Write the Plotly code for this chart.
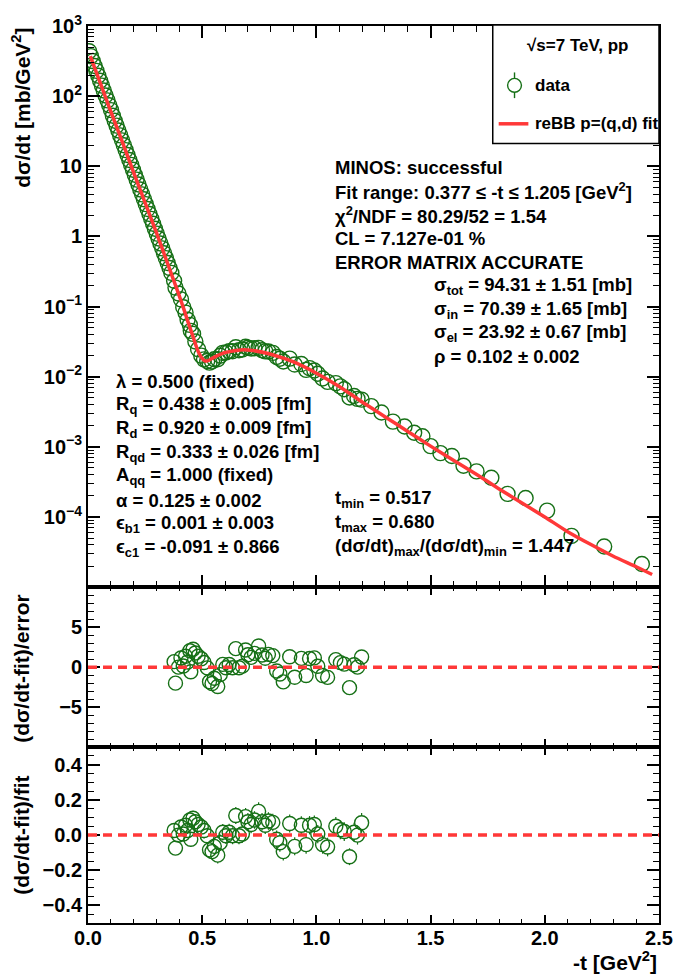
import plotly.graph_objects as go

# ---------------- data ----------------
# low |t| region (dense points)
t_low = [0.005, 0.013, 0.021, 0.029, 0.037, 0.045, 0.053, 0.061, 0.069, 0.077,
         0.085, 0.093, 0.101, 0.109, 0.117, 0.125, 0.133, 0.141, 0.149, 0.157,
         0.165, 0.173, 0.181, 0.189, 0.197, 0.205, 0.213, 0.221, 0.229, 0.237,
         0.245, 0.253, 0.261, 0.269, 0.277, 0.285, 0.293, 0.301, 0.309, 0.317,
         0.325, 0.333, 0.341, 0.349, 0.357, 0.365]
log_low = [2.64, 2.57, 2.50, 2.43, 2.36, 2.29, 2.22, 2.15, 2.08, 2.01,
           1.94, 1.87, 1.80, 1.72, 1.65, 1.58, 1.51, 1.44, 1.37, 1.30,
           1.23, 1.16, 1.09, 1.02, 0.95, 0.88, 0.81, 0.74, 0.67, 0.60,
           0.53, 0.46, 0.39, 0.32, 0.25, 0.18, 0.11, 0.04, -0.03, -0.10,
           -0.17, -0.24, -0.31, -0.38, -0.45, -0.52]

# fit range points (0.377 <= -t <= 1.205)
t_fitrange = [0.377, 0.383, 0.396, 0.407, 0.417, 0.427, 0.436, 0.446, 0.450, 0.460,
              0.470, 0.482, 0.496, 0.508, 0.522, 0.532, 0.543, 0.553, 0.568, 0.579,
              0.590, 0.604, 0.618, 0.633, 0.647, 0.661, 0.676, 0.690, 0.700, 0.714,
              0.729, 0.747, 0.762, 0.776, 0.790, 0.809, 0.826, 0.840, 0.855, 0.883,
              0.905, 0.934, 0.955, 0.970, 0.991, 1.006, 1.027, 1.049, 1.085, 1.105,
              1.122, 1.145, 1.165, 1.180, 1.198]
log_fitrange = [-0.632, -0.730, -0.814, -0.897, -1.009, -1.086, -1.189, -1.261, -1.346, -1.390,
                -1.498, -1.609, -1.700, -1.753, -1.776, -1.799, -1.783, -1.751, -1.751, -1.702,
                -1.661, -1.655, -1.637, -1.637, -1.581, -1.623, -1.613, -1.574, -1.588, -1.598,
                -1.595, -1.589, -1.622, -1.639, -1.640, -1.660, -1.720, -1.744, -1.784, -1.743,
                -1.827, -1.820, -1.902, -1.878, -1.911, -1.958, -2.025, -2.074, -2.091, -2.138,
                -2.179, -2.296, -2.276, -2.316, -2.327]
ratio = [0.026, -0.074, 0.000, 0.046, 0.006, 0.056, 0.026, 0.086, -0.024, 0.096,
         0.076, 0.060, 0.046, 0.026, -0.004, -0.084, -0.094, -0.064, -0.114, -0.044,
         0.016, -0.004, 0.016, -0.004, 0.111, -0.004, 0.006, 0.105, 0.076, 0.060,
         0.086, 0.135, 0.076, 0.056, 0.080, 0.072, -0.024, -0.044, -0.094, 0.066,
         -0.064, 0.056, -0.054, 0.056, 0.060, 0.006, -0.054, -0.068, 0.050, 0.030,
         0.020, -0.123, 0.016, 0.000, 0.070]
rel_err = [0.038, 0.037, 0.039, 0.040, 0.040, 0.041, 0.041, 0.042, 0.042, 0.043,
           0.043, 0.044, 0.044, 0.045, 0.045, 0.046, 0.046, 0.046, 0.047, 0.047,
           0.047, 0.047, 0.048, 0.048, 0.048, 0.048, 0.049, 0.049, 0.049, 0.049,
           0.050, 0.051, 0.050, 0.050, 0.050, 0.050, 0.050, 0.051, 0.051, 0.051,
           0.051, 0.051, 0.052, 0.052, 0.052, 0.052, 0.052, 0.053, 0.053, 0.053,
           0.053, 0.048, 0.054, 0.054, 0.055]

# high |t| tail
t_tail = [1.240, 1.285, 1.335, 1.386, 1.428, 1.464, 1.500, 1.543, 1.593, 1.644,
          1.701, 1.766, 1.837, 1.916, 2.010, 2.117, 2.260, 2.425]
log_tail = [-2.42, -2.51, -2.64, -2.71, -2.80, -2.85, -2.99, -3.09, -3.13, -3.27,
            -3.35, -3.44, -3.67, -3.73, -3.91, -4.27, -4.42, -4.67]

# fit curve (reBB p=(q,d))
fit_t = [0.01, 0.05, 0.10, 0.15, 0.20, 0.25, 0.30, 0.35, 0.38, 0.40, 0.42, 0.44, 0.46,
         0.47, 0.48, 0.49, 0.50, 0.51, 0.52, 0.53, 0.54, 0.56, 0.58, 0.60, 0.65, 0.68,
         0.72, 0.80, 0.90, 1.00, 1.10, 1.20, 1.30, 1.40, 1.50, 1.60, 1.70, 1.80, 1.90,
         2.00, 2.10, 2.20, 2.30, 2.40, 2.47]
fit_log = [2.57, 2.22, 1.78, 1.35, 0.91, 0.48, 0.05, -0.40, -0.67, -0.85, -1.04, -1.24, -1.43,
           -1.53, -1.62, -1.69, -1.74, -1.77, -1.775, -1.765, -1.745, -1.71, -1.68, -1.655, -1.625, -1.615,
           -1.625, -1.68, -1.79, -1.95, -2.14, -2.36, -2.57, -2.78, -2.99, -3.19, -3.39, -3.60, -3.80,
           -4.00, -4.21, -4.39, -4.56, -4.71, -4.82]

y_tickvals = [1e-4, 1e-3, 1e-2, 1e-1, 1, 10, 100, 1000]
y_ticktext = ["10<sup>−4</sup>", "10<sup>−3</sup>", "10<sup>−2</sup>", "10<sup>−1</sup>",
              "1", "10", "10<sup>2</sup>", "10<sup>3</sup>"]
x_tickvals = [0.0, 0.5, 1.0, 1.5, 2.0, 2.5]
x_ticktext = ["0.0", "0.5", "1.0", "1.5", "2.0", "2.5"]

# ---------------- derived ----------------
t_all = t_low + t_fitrange + t_tail
ds_all = [10 ** v for v in (log_low + log_fitrange + log_tail)]
fit_vals = [10 ** v for v in fit_log]
pull = [r / e for r, e in zip(ratio, rel_err)]

# ---------------- geometry ----------------
W, H = 685, 974
L, R, T, B = 88, 20, 15, 51
PW, PH = W - L - R, H - T - B
def X(px):
    return (px - L) / PW
def Y(py):
    return (H - B - py) / PH

d_main = [Y(583), 1.0]
d_res = [Y(745), Y(583)]
d_rat = [0.0, Y(745)]

GREEN = "rgb(22,112,22)"
RED = "#ff3838"
FONT = "Liberation Sans"

fig = go.Figure()

fig.add_trace(go.Scatter(x=t_all, y=ds_all, mode="markers",
                         marker=dict(symbol="circle-open", size=15, color=GREEN, line=dict(width=1.4)),
                         xaxis="x", yaxis="y", showlegend=False))
fig.add_trace(go.Scatter(x=fit_t, y=fit_vals, mode="lines",
                         line=dict(color=RED, width=3.5, shape="spline", smoothing=0.6),
                         xaxis="x", yaxis="y", showlegend=False))

fig.add_trace(go.Scatter(x=t_fitrange, y=pull, mode="markers",
                         marker=dict(symbol="circle-open", size=14, color=GREEN, line=dict(width=1.4)),
                         xaxis="x2", yaxis="y2", showlegend=False))

# ratio error bars drawn outside the marker
rad = 7.0 / (923 - 745) * 1.0  # marker radius in ratio units (panel spans 1.0)
ex, ey = [], []
for t, r, e in zip(t_fitrange, ratio, rel_err):
    if e > rad:
        ex += [t, t, None, t, t, None]
        ey += [r + rad, r + e, None, r - rad, r - e, None]
fig.add_trace(go.Scatter(x=ex, y=ey, mode="lines", line=dict(color=GREEN, width=1.2),
                         xaxis="x3", yaxis="y3", showlegend=False))
fig.add_trace(go.Scatter(x=t_fitrange, y=ratio, mode="markers",
                         marker=dict(symbol="circle-open", size=14, color=GREEN, line=dict(width=1.4)),
                         xaxis="x3", yaxis="y3", showlegend=False))

tickfont = dict(family=FONT, size=20, color="black", weight="bold")
common_x = dict(range=[0, 2.5], showline=True, linewidth=2, linecolor="black", mirror="allticks",
                ticks="inside", tickcolor="black", tickwidth=1.5, showgrid=False, zeroline=False,
                tickmode="array", tickvals=x_tickvals, ticktext=x_ticktext, tickfont=tickfont)
minor_x_main = dict(ticks="inside", ticklen=6, tickcolor="black", tickwidth=1.2, dtick=0.1, tick0=0, showgrid=False)
minor_x_low = dict(ticks="inside", ticklen=4, tickcolor="black", tickwidth=1.2, dtick=0.1, tick0=0, showgrid=False)

minor_log = [m * 10 ** e for e in range(-5, 3) for m in range(2, 10)]

fig.update_layout(
    width=W, height=H, margin=dict(l=L, r=R, t=T, b=B),
    paper_bgcolor="white", plot_bgcolor="white",
    font=dict(family=FONT, color="black"),
    xaxis=dict(domain=[0, 1], anchor="y", showticklabels=False, ticklen=12, minor=minor_x_main, **common_x),
    yaxis=dict(domain=d_main, anchor="x", type="log", range=[-5, 3], showline=True, linewidth=2,
               linecolor="black", mirror="allticks", ticks="inside", ticklen=12, tickwidth=1.5,
               tickcolor="black", tickmode="array", tickvals=y_tickvals, ticktext=y_ticktext,
               tickfont=tickfont, showgrid=False, zeroline=False,
               minor=dict(ticks="inside", ticklen=6, tickcolor="black", tickwidth=1.2,
                          tickmode="array", tickvals=minor_log, showgrid=False)),
    xaxis2=dict(domain=[0, 1], anchor="y2", matches="x", showticklabels=False, ticklen=8, minor=minor_x_low, **common_x),
    yaxis2=dict(domain=d_res, anchor="x2", range=[-10, 10], showline=True, linewidth=2, linecolor="black",
                mirror="allticks", ticks="inside", ticklen=12, tickwidth=1.5, tickcolor="black",
                tickmode="array", tickvals=[-5, 0, 5], ticktext=["−5", "0", "5"], tickfont=tickfont,
                showgrid=False, zeroline=False,
                minor=dict(ticks="inside", ticklen=6, tickcolor="black", tickwidth=1.2, dtick=1, tick0=0, showgrid=False)),
    xaxis3=dict(domain=[0, 1], anchor="y3", matches="x", showticklabels=True, ticklen=8,
                ticklabelstandoff=-4, minor=minor_x_low, **common_x),
    yaxis3=dict(domain=d_rat, anchor="x3", range=[-0.5, 0.5], showline=True, linewidth=2, linecolor="black",
                mirror="allticks", ticks="inside", ticklen=12, tickwidth=1.5, tickcolor="black",
                tickmode="array", tickvals=[-0.4, -0.2, 0.0, 0.2, 0.4],
                ticktext=["−0.4", "−0.2", "0.0", "0.2", "0.4"], tickfont=tickfont,
                showgrid=False, zeroline=False,
                minor=dict(ticks="inside", ticklen=6, tickcolor="black", tickwidth=1.2, dtick=0.05, tick0=0, showgrid=False)),
)

shapes = []
# dashed zero lines
for xr, yr in (("x2 domain", "y2"), ("x3 domain", "y3")):
    shapes.append(dict(type="line", xref=xr, yref=yr, x0=0, x1=1, y0=0, y1=0,
                       line=dict(color=RED, width=3.5, dash="9px,6px")))
# legend box
shapes.append(dict(type="rect", xref="paper", yref="paper", x0=X(497), x1=X(665), y0=Y(134), y1=Y(14),
                   fillcolor="white", line=dict(color="black", width=1.5)))
shapes.append(dict(type="circle", xref="paper", yref="paper", x0=X(512), x1=X(526), y0=Y(82), y1=Y(68),
                   line=dict(color=GREEN, width=1.4)))
shapes.append(dict(type="line", xref="paper", yref="paper", x0=X(519), x1=X(519), y0=Y(68), y1=Y(62),
                   line=dict(color=GREEN, width=1.4)))
shapes.append(dict(type="line", xref="paper", yref="paper", x0=X(519), x1=X(519), y0=Y(88), y1=Y(82),
                   line=dict(color=GREEN, width=1.4)))
shapes.append(dict(type="line", xref="paper", yref="paper", x0=X(503), x1=X(533), y0=Y(114), y1=Y(114),
                   line=dict(color=RED, width=3.5)))
fig.update_layout(shapes=shapes)

ann = []
def txt(s, px, py, size=18, xanchor="left", angle=0, yanchor="middle"):
    ann.append(dict(text="<b>" + s + "</b>", x=X(px), y=Y(py), xref="paper", yref="paper",
                    xanchor=xanchor, yanchor=yanchor, showarrow=False, textangle=angle,
                    font=dict(family=FONT, size=size, color="black")))

# legend text
txt("√s=7 TeV, pp", 583, 35, size=17, xanchor="center")
txt("data", 538, 75, size=17)
txt("reBB p=(q,d) fit", 538, 114, size=17)

# right block
right_lines = ["MINOS: successful",
               "Fit range: 0.377 ≤ -t ≤ 1.205 [GeV<sup>2</sup>]",
               "χ<sup>2</sup>/NDF = 80.29/52 = 1.54",
               "CL = 7.127e-01 %",
               "ERROR MATRIX ACCURATE"]
for i, s in enumerate(right_lines):
    txt(s, 336, 158 + 24 * i, size=18.5)
sig_lines = ["σ<sub>tot</sub> = 94.31 ± 1.51 [mb]",
             "σ<sub>in</sub> = 70.39 ± 1.65 [mb]",
             "σ<sub>el</sub> = 23.92 ± 0.67 [mb]",
             "ρ = 0.102 ± 0.002"]
for i, s in enumerate(sig_lines):
    txt(s, 436, 278 + 24 * i, size=18.5)

left_lines = ["λ = 0.500 (fixed)",
              "R<sub>q</sub> = 0.438 ± 0.005 [fm]",
              "R<sub>d</sub> = 0.920 ± 0.009 [fm]",
              "R<sub>qd</sub> = 0.333 ± 0.026 [fm]",
              "A<sub>qq</sub> = 1.000 (fixed)",
              "α = 0.125 ± 0.002",
              "ϵ<sub>b1</sub> = 0.001 ± 0.003",
              "ϵ<sub>c1</sub> = -0.091 ± 0.866"]
for i, s in enumerate(left_lines):
    txt(s, 114, 375 + 24 * i, size=18.5)

t_lines = ["t<sub>min</sub> = 0.517",
           "t<sub>max</sub> = 0.680",
           "(dσ/dt)<sub>max</sub>/(dσ/dt)<sub>min</sub> = 1.447"]
for i, s in enumerate(t_lines):
    txt(s, 336, 494 + 24 * i, size=18.5)

# axis titles
txt("dσ/dt [mb/GeV<sup>2</sup>]", 20, 15, size=21, xanchor="center", angle=-90, yanchor="top")
txt("(dσ/dt-fit)/error", 20, 665, size=21, xanchor="center", angle=-90)
txt("(dσ/dt-fit)/fit", 20, 834, size=21, xanchor="center", angle=-90)
txt("-t [GeV<sup>2</sup>]", 665, 961, size=21, xanchor="right")

fig.update_layout(annotations=ann)
fig.write_html("out.html", config={"displayModeBar": False},
               post_script="document.body.style.margin='0px';document.body.style.overflow='hidden';")
